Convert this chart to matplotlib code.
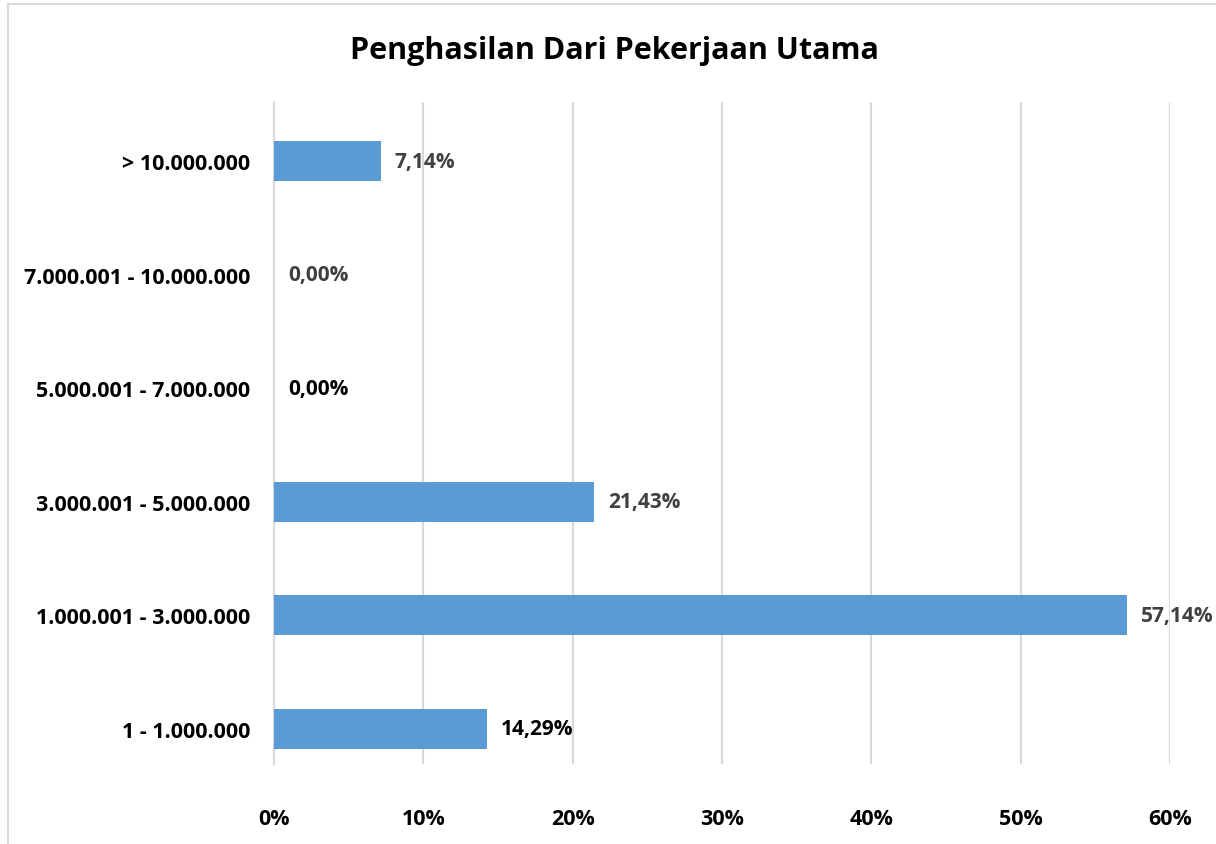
import matplotlib.pyplot as plt
from matplotlib.patches import Rectangle
from matplotlib.ticker import FuncFormatter

categories = ["1 - 1.000.000", "1.000.001 - 3.000.000", "3.000.001 - 5.000.000",
              "5.000.001 - 7.000.000", "7.000.001 - 10.000.000", "> 10.000.000"]
values = [14.29, 57.14, 21.43, 0.00, 0.00, 7.14]
label_colors = ["#000000", "#404040", "#404040", "#000000", "#404040", "#404040"]
ticks = [0, 10, 20, 30, 40, 50, 60]

plt.rcParams['font.family'] = ['Open Sans', 'DejaVu Sans']

fig = plt.figure(figsize=(12.16, 8.45), dpi=100)
ax = fig.add_axes([0.2253, 0.0947, 0.7369, 0.7833])

pos = list(range(len(categories)))
ax.barh(pos, values, height=0.35, color="#5B9BD5", zorder=3)

for y, v, c in zip(pos, values, label_colors):
    txt = f"{v:.2f}".replace(".", ",") + "%"
    ax.annotate(txt, (v, y), xytext=(10, 0), textcoords="offset points",
                ha="left", va="center", fontsize=15, fontweight="bold", color=c)

ax.set_xlim(0, 60)
ax.set_ylim(-0.31, 5.52)
ax.set_xticks(ticks)
ax.xaxis.set_major_formatter(FuncFormatter(lambda x, p: f"{x:.0f}%"))
ax.set_yticks(pos)
ax.set_yticklabels(categories)
ax.tick_params(axis="both", length=0, labelsize=15.5)
ax.tick_params(axis="x", pad=32)
ax.tick_params(axis="y", pad=17)
for lab in ax.get_xticklabels() + ax.get_yticklabels():
    lab.set_fontweight("bold")

ax.grid(axis="x", color="#D9D9D9", linewidth=1.5, zorder=0)
for s in ["top", "right", "bottom"]:
    ax.spines[s].set_visible(False)
ax.spines["left"].set_color("#D9D9D9")
ax.spines["left"].set_linewidth(1.5)

fig.text(0.5055, 0.94, "Penghasilan Dari Pekerjaan Utama", ha="center", va="center",
         fontsize=22, fontweight="bold")

fig.patches.append(Rectangle((0.0066, -0.1), 1.2, 1.094, transform=fig.transFigure,
                             fill=False, edgecolor="#D9D9D9", linewidth=1.5))

fig.savefig("out.png", dpi=100)
